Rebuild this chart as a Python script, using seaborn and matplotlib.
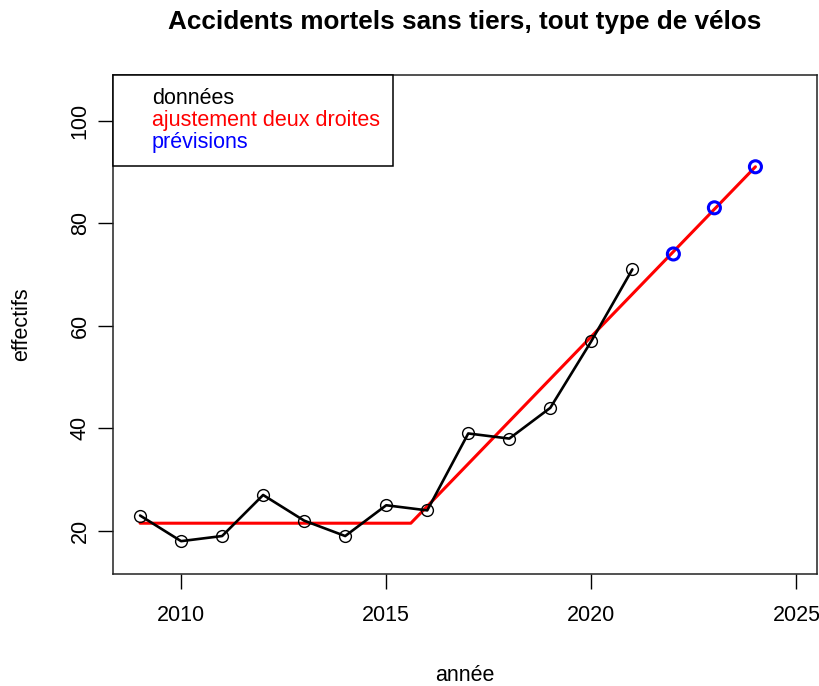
import matplotlib
matplotlib.use("Agg")
import matplotlib.pyplot as plt
import seaborn as sns
import pandas as pd
from matplotlib.lines import Line2D

# observed data
annees = [2009, 2010, 2011, 2012, 2013, 2014, 2015, 2016, 2017, 2018, 2019, 2020, 2021]
effectifs = [23, 18, 19, 27, 22, 19, 25, 24, 39, 38, 44, 57, 71]

# two-line fit (flat then rising)
fit_annees = [2009, 2015.6, 2024]
fit_valeurs = [21.5, 21.5, 91]

# forecasts
prev_annees = [2022, 2023, 2024]
prev_valeurs = [74, 83, 91]

x_ticks = [2010, 2015, 2020, 2025]
y_ticks = [20, 40, 60, 80, 100]

sns.set_style("white")
plt.rcParams["font.family"] = ["Liberation Sans", "DejaVu Sans"]
plt.rcParams["text.color"] = "black"
plt.rcParams["axes.labelcolor"] = "black"
plt.rcParams["xtick.color"] = "black"
plt.rcParams["ytick.color"] = "black"

df = pd.DataFrame({"annee": annees, "effectif": effectifs})
df_fit = pd.DataFrame({"annee": fit_annees, "effectif": fit_valeurs})
df_prev = pd.DataFrame({"annee": prev_annees, "effectif": prev_valeurs})

fig = plt.figure(figsize=(8.2, 6.86), dpi=100)
ax = fig.add_axes([0.1378, 0.1633, 0.8585, 0.7274])

sns.lineplot(data=df, x="annee", y="effectif", ax=ax, color="black", lw=1.9,
             marker="o", markersize=8.5, markerfacecolor="none",
             markeredgecolor="black", markeredgewidth=1.0, zorder=3)
sns.lineplot(data=df_fit, x="annee", y="effectif", ax=ax, color="red", lw=2.2, zorder=2)
sns.scatterplot(data=df_prev, x="annee", y="effectif", ax=ax, s=75,
                facecolor="none", edgecolor="blue", linewidth=2.2, zorder=4)

ax.set_xlim(2008.34, 2025.5)
ax.set_ylim(11.6, 108.9)
ax.set_xticks(x_ticks)
ax.set_yticks(y_ticks)
ax.set_xticklabels([str(t) for t in x_ticks], fontsize=15.5)
ax.set_yticklabels([str(t) for t in y_ticks], fontsize=15.5, rotation=90, va="center")
ax.tick_params(direction="out", length=11, width=1, colors="black", pad=11.5,
               bottom=True, left=True)
ax.tick_params(axis="y", pad=5)

for sp in ax.spines.values():
    sp.set_visible(True)
    sp.set_color("#222222")
    sp.set_linewidth(1.1)

ax.set_xlabel("année", fontsize=15.5, va="center")
ax.set_ylabel("effectifs", fontsize=15.5, va="center")
ax.xaxis.set_label_coords(0.5, -0.204)
ax.yaxis.set_label_coords(-0.13, 0.5)
ax.set_title("Accidents mortels sans tiers, tout type de vélos",
             fontsize=18.8, fontweight="bold", pad=33)

handles = [Line2D([], [], linestyle="none") for _ in range(3)]
leg = ax.legend(handles, ["données", "ajustement deux droites", "prévisions"],
                loc="upper left", bbox_to_anchor=(0, 1), borderaxespad=0,
                frameon=True, fancybox=False, edgecolor="black",
                labelcolor=["black", "red", "blue"], fontsize=15.5,
                handlelength=1.0, handletextpad=0.2, borderpad=0.6,
                labelspacing=0.05)
leg.get_frame().set_linewidth(1.1)
leg.get_frame().set_alpha(1)

ax.set_facecolor("white")
fig.savefig("out.png", dpi=100, facecolor="white")
